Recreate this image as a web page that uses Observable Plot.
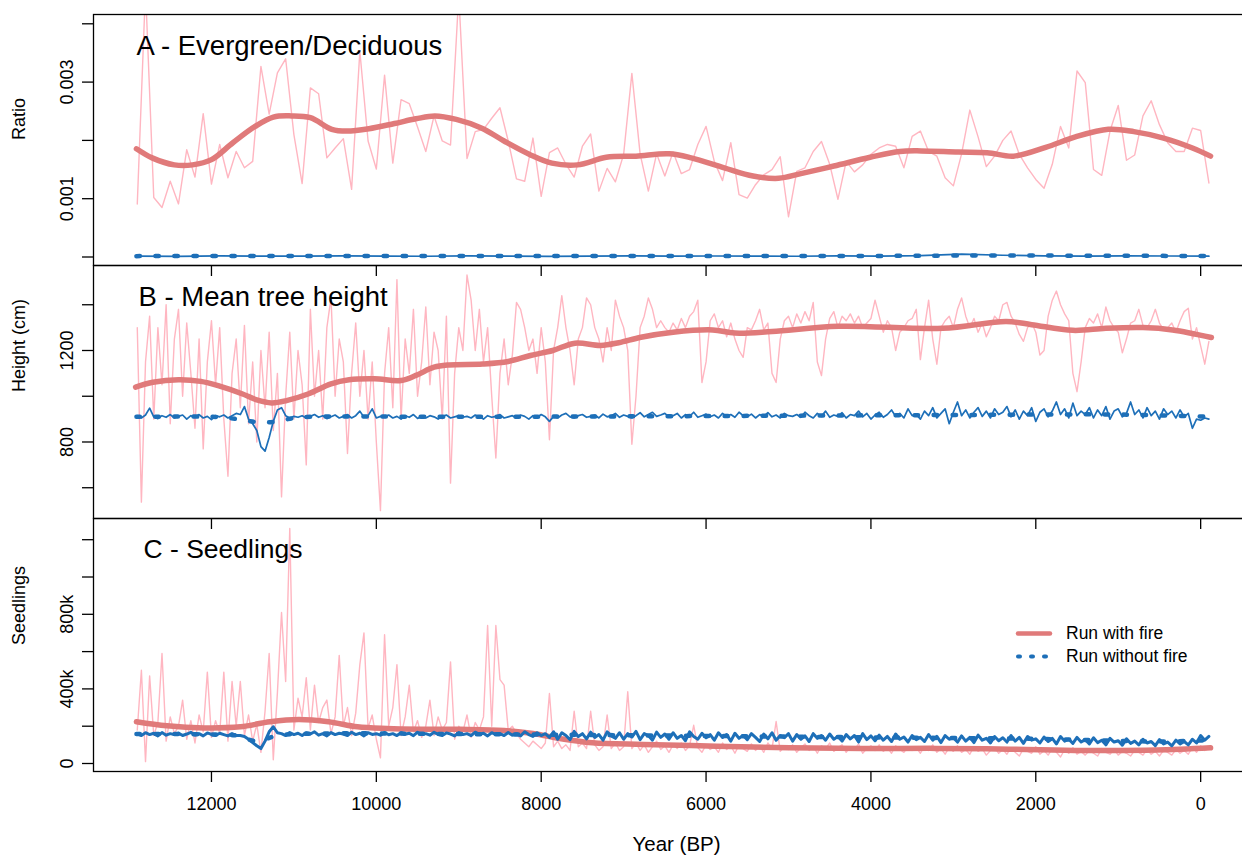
<!DOCTYPE html>
<html><head><meta charset="utf-8">
<script src="https://cdn.jsdelivr.net/npm/d3@7"></script>
<script src="https://cdn.jsdelivr.net/npm/@observablehq/plot@0.6"></script>
<style>
html,body{margin:0;padding:0;background:#fff;overflow:hidden;}
#chart{position:relative;width:1262px;height:858px;overflow:hidden;font-family:"Liberation Sans",Arial,Helvetica,sans-serif;}
#chart svg.panel{position:absolute;left:0;top:0;}
.leg{position:absolute;left:1014px;height:23px;line-height:23px;font-size:17.5px;white-space:nowrap;color:#000;}
.leg svg{vertical-align:top;margin-right:0;}
.leg span{display:inline-block;vertical-align:top;}
</style></head><body><div id="chart"></div>
<script>
// ---------------- DATA ----------------
const seriesNames = ["Run with fire", "Run without fire"];
const xTicks = [12000, 10000, 8000, 6000, 4000, 2000, 0];

// Panel A: Evergreen/Deciduous ratio (values in units of 0.001)
const aYears = [12900,12800,12700,12600,12500,12400,12300,12200,12100,12000,
  11900,11800,11700,11600,11500,11400,11300,11200,11100,11000,
  10900,10800,10700,10600,10500,10400,10300,10200,10100,10000,
  9900,9800,9700,9600,9500,9400,9300,9200,9100,9000,
  8900,8800,8700,8600,8500,8400,8300,8200,8100,8000,
  7900,7800,7700,7600,7500,7400,7300,7200,7100,7000,
  6900,6800,6700,6600,6500,6400,6300,6200,6100,6000,
  5900,5800,5700,5600,5500,5400,5300,5200,5100,5000,
  4900,4800,4700,4600,4500,4400,4300,4200,4100,4000,
  3900,3800,3700,3600,3500,3400,3300,3200,3100,3000,
  2900,2800,2700,2600,2500,2400,2300,2200,2100,2000,
  1900,1800,1700,1600,1500,1400,1300,1200,1100,1000,
  900,800,700,600,500,400,300,200,100,0,-100];
const aFire = [0.91,4.6,1.02,0.85,1.30,0.91,1.84,1.37,2.46,1.25,
  1.93,1.36,1.81,1.53,1.64,3.27,2.45,3.16,3.40,2.10,
  1.26,2.90,2.80,1.70,1.87,2.03,1.16,3.53,1.99,1.51,
  3.12,1.61,2.70,2.63,2.23,1.81,2.42,1.99,1.92,4.5,
  1.69,2.15,2.19,2.38,2.56,1.99,1.34,1.30,2.04,1.04,
  1.79,1.87,1.59,1.37,1.90,2.11,1.13,1.52,1.29,1.76,
  3.15,1.77,1.13,1.77,1.39,1.80,1.43,1.50,1.93,2.24,
  1.64,1.31,1.96,1.07,1.01,1.24,1.41,1.50,1.72,0.69,
  1.47,1.53,1.81,1.98,1.59,0.99,1.64,1.46,1.58,1.76,
  1.87,1.93,1.90,1.53,2.07,2.16,1.81,1.73,1.36,1.22,
  1.77,2.52,2.06,1.55,1.73,2.00,2.16,1.76,1.53,1.33,
  1.18,1.59,2.24,1.87,3.19,2.99,1.50,1.40,2.16,2.60,
  1.66,1.75,2.42,2.68,2.27,1.96,1.81,1.81,2.21,2.17,1.27];
const aSmoothYears = [12910,12720,12450,12230,12000,11740,11470,11250,11030,10800,10540,10360,10090,9780,9520,9290,9030,8720,8450,8140,7870,7560,7210,6850,6450,6180,5780,5430,5120,4850,4450,4010,3650,3390,2940,2590,2270,1880,1520,1120,810,450,100,-120];
const aFireSmooth = [1.856,1.70,1.58,1.58,1.67,1.96,2.24,2.40,2.42,2.39,2.19,2.16,2.20,2.29,2.37,2.42,2.36,2.21,1.99,1.76,1.61,1.58,1.71,1.73,1.77,1.70,1.53,1.39,1.35,1.43,1.56,1.71,1.81,1.82,1.80,1.79,1.73,1.88,2.06,2.19,2.15,2.04,1.87,1.73];
const aNoFireYears = [12900,12400,11900,11400,10900,10400,9900,9400,8900,8400,7900,7400,6900,6400,5900,5400,4900,4400,3900,3400,2900,2400,1900,1400,900,400,-100];
const aNoFire = [0.015,0.012,0.018,0.014,0.016,0.020,0.015,0.013,0.018,0.015,0.012,0.016,0.020,0.014,0.017,0.015,0.013,0.018,0.016,0.025,0.050,0.030,0.018,0.015,0.020,0.017,0.015];
const aNoFireSmoothYears = [12910,8000,4000,2800,-120];
const aNoFireSmooth = [0.015,0.016,0.018,0.025,0.017];
const aTicks = [0, 0.001, 0.002, 0.003, 0.004];
const aTickLabels = ["", "0.001", "", "0.003", ""];

// Panels B and C: model output sampled every 50 years from 12900 BP to -100 BP
const denseStart = 12900, denseStep = 50;
const bFire = [1300,537,1150,1350,900,1300,1050,1400,880,1250,
  1380,1000,1320,1100,860,1250,770,1150,1330,1050,
  1300,900,650,1100,1250,950,1310,880,1150,800,
  1200,950,1280,850,1100,560,1000,1280,900,1200,
  1050,700,1380,1000,1200,900,1300,1430,1000,1250,
  1150,750,1100,1320,1000,1200,900,1150,800,500,
  1100,1300,950,1510,900,1250,1100,1380,1000,1150,
  1390,1050,1280,1200,900,1350,620,1100,1300,1200,
  1530,1420,1200,1380,1150,1300,1000,730,1100,1250,
  1050,1180,1410,1380,1300,1200,1250,1100,1300,1150,
  810,1200,1300,1440,1300,1200,1050,1250,1300,1430,
  1400,1300,1250,1150,1300,1200,1420,1350,1300,1200,
  790,1000,1300,1350,1430,1380,1300,1330,1300,1280,
  1320,1290,1340,1300,1350,1370,1420,1060,1150,1330,
  1360,1300,1330,1260,1320,1250,1200,1170,1300,1290,
  1330,1380,1290,1320,1100,1060,1250,1330,1350,1300,
  1360,1320,1370,1330,1410,1150,1090,1250,1340,1370,
  1300,1350,1330,1360,1320,1350,1300,1320,1340,1420,
  1350,1280,1330,1300,1200,1280,1300,1330,1340,1380,
  1160,1300,1420,1250,1140,1300,1330,1350,1300,1380,
  1430,1350,1300,1340,1280,1320,1260,1300,1350,1330,
  1400,1410,1350,1320,1270,1240,1300,1320,1280,1180,
  1200,1350,1420,1460,1400,1360,1330,1100,1020,1150,
  1300,1340,1320,1360,1300,1390,1330,1300,1280,1190,
  1250,1320,1330,1380,1310,1300,1330,1380,1320,1290,
  1300,1320,1280,1330,1370,1385,1250,1300,1220,1140,1240];
const bNoFire = [915,905,918,948,910,902,915,908,920,905,
  912,918,900,915,908,920,905,912,898,915,
  910,918,905,915,925,920,955,900,880,850,
  780,760,820,890,940,950,915,905,912,908,
  915,905,912,920,908,915,902,910,918,905,
  912,920,905,915,935,908,915,945,905,912,
  910,918,905,912,900,915,908,920,903,912,
  905,915,910,900,912,918,905,910,915,908,
  912,905,918,910,900,915,908,912,920,905,
  910,915,905,918,912,900,915,908,920,910,
  890,912,905,918,925,910,905,915,920,908,
  912,918,905,922,910,915,925,908,918,912,
  905,915,928,910,920,930,912,918,925,910,
  915,925,905,920,912,930,908,915,922,910,
  918,905,925,912,920,908,930,915,910,922,
  905,920,912,928,910,918,905,925,915,912,
  920,908,930,915,905,925,912,935,908,918,
  912,928,905,920,915,935,910,925,900,918,
  930,908,920,940,912,925,905,945,915,920,
  900,935,915,950,905,925,945,880,930,975,
  915,940,905,930,950,912,935,905,945,920,
  930,955,910,940,900,935,915,950,890,930,
  945,910,935,975,920,945,905,970,915,935,
  920,950,905,940,915,955,900,935,945,910,
  925,975,920,940,905,950,915,935,900,945,
  920,935,905,940,910,925,860,900,895,905,900];
const bSmoothYears = [12920,12710,12400,12130,11900,11630,11450,11270,11090,10820,10550,10330,10020,9700,9520,9300,9120,8710,8400,8130,7860,7590,7280,7060,6790,6400,5920,5650,5200,4390,3130,2360,2050,1550,1150,700,340,-130];
const bFireSmooth = [1040,1061,1072,1065,1044,1011,984,971,981,1011,1054,1072,1076,1069,1091,1127,1137,1141,1152,1178,1200,1232,1222,1234,1258,1280,1290,1276,1283,1306,1297,1327,1313,1288,1297,1300,1290,1257];
const bNoFireSmoothYears = [12910,12000,11800,11600,11400,11200,11000,10800,9000,7000,5000,3000,1000,-120];
const bNoFireSmooth = [910,910,905,895,885,890,905,910,910,912,915,918,920,910];
const bTicks = [600, 800, 1000, 1200, 1400];
const bTickLabels = ["", "800", "", "1200", ""];

// Panel C: seedlings (thousands)
const cFire = [180,500,10,470,150,220,590,120,250,160,
  200,340,130,230,110,260,170,490,140,230,
  160,490,120,440,200,440,150,260,120,210,
  60,280,590,20,380,810,440,1260,180,350,
  250,460,180,420,220,300,340,160,250,580,
  200,300,150,270,530,700,190,260,130,30,
  690,200,300,530,150,250,420,170,230,140,
  200,340,150,250,180,220,545,130,200,170,
  260,140,220,180,250,740,200,740,450,420,
  180,200,160,130,110,90,120,100,80,110,
  375,90,120,80,100,70,280,90,110,80,
  280,100,70,90,260,80,110,70,90,385,
  80,110,70,100,60,90,120,75,95,60,
  100,80,110,70,95,205,85,60,100,75,
  90,60,110,75,95,55,100,80,65,105,
  70,95,60,110,80,225,65,90,75,100,
  60,85,105,70,90,55,95,80,110,65,
  85,100,60,90,75,105,55,80,95,70,
  100,65,85,55,95,75,60,90,70,85,
  55,90,70,100,60,80,50,85,65,95,
  60,75,50,90,65,80,45,70,85,55,
  75,50,85,60,40,80,65,55,90,50,
  70,45,80,60,35,75,55,85,50,65,
  45,70,55,40,80,60,50,75,45,65,
  55,40,70,60,45,75,50,65,40,70,
  60,45,75,55,70,50,85,60,95,70,80];
const cNoFire = [160,150,165,155,162,148,166,152,160,155,
  163,150,158,167,153,160,148,164,156,150,
  162,155,148,160,150,150,145,130,112,95,
  80,120,170,197,165,160,150,166,155,162,
  150,165,158,170,152,160,148,166,155,162,
  158,150,168,155,162,148,165,156,160,152,
  166,154,160,150,165,157,162,149,168,155,
  160,152,167,156,150,164,158,148,166,155,
  160,150,168,157,162,148,165,155,160,150,
  166,152,160,148,170,155,145,165,150,160,
  140,170,130,165,150,128,172,145,160,132,
  168,140,155,125,170,148,135,165,130,160,
  142,172,128,160,150,125,168,140,158,130,
  165,135,150,122,170,145,130,162,138,155,
  125,165,140,155,120,162,135,150,128,160,
  140,118,158,132,165,125,150,138,160,120,
  155,130,148,118,160,135,150,125,158,130,
  145,120,155,132,150,115,160,128,148,122,
  152,125,145,118,158,130,142,115,150,128,
  140,118,155,125,145,112,150,130,138,115,
  148,120,140,112,152,125,135,110,145,122,
  138,115,150,120,140,108,145,125,132,110,
  142,118,135,105,145,120,130,108,140,115,
  128,105,138,112,125,100,135,115,122,98,
  132,108,120,100,130,110,118,96,128,105,
  115,95,125,105,118,100,130,110,150,125,145];
const cSmoothYears = [12910,12540,12090,11650,11290,10940,10580,10230,9870,9430,8980,8450,8100,7740,7380,6760,5870,4990,4100,3210,2320,1430,540,-120];
const cFireSmooth = [224,202,191,197,224,236,224,197,188,184,183,177,161,131,111,102,93,84,81,81,77,70,72,84];
const cNoFireSmoothYears = [12910,12000,11700,11450,11200,10800,9000,8000,6000,4000,2000,500,-120];
const cNoFireSmooth = [158,156,150,120,150,160,158,155,148,140,132,118,125];
const cTicks = [0, 200000, 400000, 600000, 800000, 1000000, 1200000];
const cTickLabels = ["0", "", "400k", "", "800k", "", ""];

// ---------------- STYLE ----------------
const W = 1262, H = 858;
const FONT = '"Liberation Sans", Arial, Helvetica, sans-serif';
const PINK = "#FFB6C1", SALMON = "#E07A7A", BLUE = "#1D6FB8";
const DOTS = "3.5,15.5";
const TICK_FONT = 18;

const denseYears = bFire.map((_, i) => denseStart - i * denseStep);
const pairs = (years, vals, k = 1) => years.map((year, i) => ({year, v: vals[i] * k}));

function panel({top, bottom, yDomain, ticks, labels, yLabel, title, titleDx, titleSize, xLabels, lines}) {
  const lab = new Map(ticks.map((t, i) => [t, labels[i]]));
  const marks = [
    Plot.line(lines.fire, {x: "year", y: "v", stroke: PINK, strokeWidth: 1.4, clip: true}),
    Plot.line(lines.fireSmooth, {x: "year", y: "v", stroke: SALMON, strokeWidth: 5.5, curve: "catmull-rom", clip: true}),
    Plot.line(lines.noFire, {x: "year", y: "v", stroke: BLUE, strokeWidth: lines.noFireWidth || 1.7, clip: true}),
    Plot.line(lines.noFireSmooth, {x: "year", y: "v", stroke: BLUE, strokeWidth: 4.5, strokeDasharray: DOTS, strokeLinecap: "round", curve: "catmull-rom", clip: true}),
    Plot.frame({stroke: "#000", strokeWidth: 1.3}),
    Plot.axisY({ticks, tickSize: 11, tickPadding: 10, tickRotate: -90, tickFormat: d => lab.get(d) ?? "", label: null, fontSize: TICK_FONT, strokeWidth: 1.3}),
    Plot.axisX({ticks: xTicks, tickSize: 11, tickPadding: 15, tickFormat: xLabels ? d => String(d) : () => "", label: null, fontSize: TICK_FONT, strokeWidth: 1.3}),
    Plot.text([yLabel], {frameAnchor: "left", dx: -74, rotate: -90, fontSize: 18}),
    Plot.text([title], {frameAnchor: "top-left", dx: titleDx, dy: 21, lineAnchor: "top", textAnchor: "start", fontSize: titleSize})
  ];
  if (xLabels) marks.push(Plot.text(["Year (BP)"], {frameAnchor: "bottom", dx: 3, dy: 65, lineAnchor: "top", fontSize: 20.5}));
  const svg = Plot.plot({
    width: W, height: H,
    marginLeft: 93, marginRight: W - 1253, marginTop: top, marginBottom: H - bottom,
    x: {domain: [13431, -641]},
    y: {domain: yDomain},
    style: {background: "transparent", overflow: "visible", fontFamily: FONT, fontSize: "18px", color: "#000", maxWidth: "none"},
    marks
  });
  svg.classList.add("panel");
  return svg;
}

const chart = document.getElementById("chart");
chart.appendChild(panel({
  top: 14, bottom: 265, yDomain: [-0.0001458, 0.0041595], ticks: aTicks, labels: aTickLabels,
  yLabel: "Ratio", title: "A - Evergreen/Deciduous", titleDx: 43, titleSize: 27.5, xLabels: false,
  lines: {
    fire: pairs(aYears, aFire, 1e-3),
    fireSmooth: pairs(aSmoothYears, aFireSmooth, 1e-3),
    noFire: pairs(aNoFireYears, aNoFire, 1e-3),
    noFireSmooth: pairs(aNoFireSmoothYears, aNoFireSmooth, 1e-3)
  }
}));
chart.appendChild(panel({
  top: 265, bottom: 518, yDomain: [465.5, 1571.6], ticks: bTicks, labels: bTickLabels,
  yLabel: "Height (cm)", title: "B - Mean tree height", titleDx: 45, titleSize: 27.5, xLabels: false,
  lines: {
    fire: pairs(denseYears, bFire),
    fireSmooth: pairs(bSmoothYears, bFireSmooth),
    noFire: pairs(denseYears, bNoFire),
    noFireSmooth: pairs(bNoFireSmoothYears, bNoFireSmooth)
  }
}));
chart.appendChild(panel({
  top: 518, bottom: 771, yDomain: [-42900, 1313700], ticks: cTicks, labels: cTickLabels,
  yLabel: "Seedlings", title: "C - Seedlings", titleDx: 50, titleSize: 26.5, xLabels: true,
  lines: {
    fire: pairs(denseYears, cFire, 1000),
    fireSmooth: pairs(cSmoothYears, cFireSmooth, 1000),
    noFire: pairs(denseYears, cNoFire, 1000),
    noFireWidth: 3,
    noFireSmooth: pairs(cNoFireSmoothYears, cNoFireSmooth, 1000)
  }
}));

// Legend (inside panel C)
const legendStyles = [
  {stroke: SALMON, width: 4.5, dash: null, top: 622},
  {stroke: BLUE, width: 4, dash: "2,11", top: 645}
];
seriesNames.forEach((name, i) => {
  const s = legendStyles[i];
  const row = document.createElement("div");
  row.className = "leg";
  row.style.top = s.top + "px";
  row.innerHTML = `<svg width="52" height="23"><line x1="4" x2="36" y1="11.5" y2="11.5" stroke="${s.stroke}" stroke-width="${s.width}" stroke-linecap="round"${s.dash ? ` stroke-dasharray="${s.dash}"` : ""}/></svg><span>${name}</span>`;
  chart.appendChild(row);
});
</script>
</body></html>
